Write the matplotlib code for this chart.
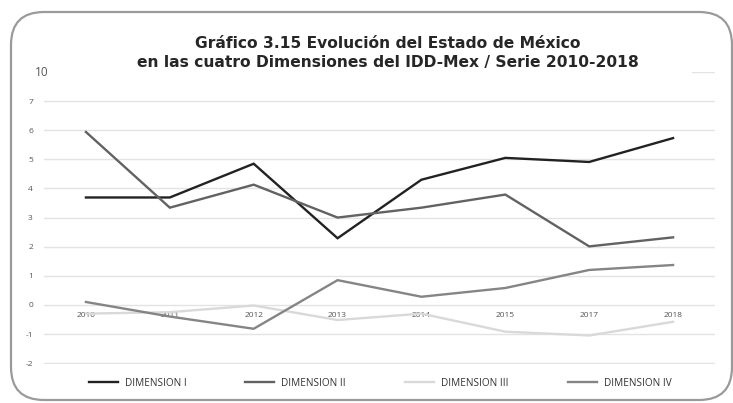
import matplotlib
matplotlib.use("Agg")
import matplotlib.pyplot as plt
from matplotlib.patches import FancyBboxPatch

# Datos
anios = ["2010", "2011", "2012", "2013", "2014", "2015", "2017", "2018"]
dim_1 = [3.69, 3.69, 4.85, 2.29, 4.30, 5.05, 4.91, 5.73]
dim_2 = [5.94, 3.34, 4.13, 3.00, 3.34, 3.79, 2.01, 2.32]
dim_3 = [-0.30, -0.25, -0.02, -0.52, -0.30, -0.92, -1.05, -0.58]
dim_4 = [0.10, -0.40, -0.82, 0.85, 0.28, 0.58, 1.20, 1.37]
nombres = ["DIMENSION I", "DIMENSION II", "DIMENSION III", "DIMENSION IV"]
yticks = [-2, -1, 0, 1, 2, 3, 4, 5, 6, 7]

colores = ["#222222", "#626262", "#d9d9d9", "#858585"]

fig = plt.figure(figsize=(7.33, 4.03), dpi=100)
ax = fig.add_axes([44 / 733, 1 - 364 / 403, 671 / 733, 292 / 403])

x = list(range(len(anios)))
for serie, nombre, c in zip([dim_1, dim_2, dim_3, dim_4], nombres, colores):
    ax.plot(x, serie, color=c, lw=1.7, label=nombre, solid_joinstyle="miter")

ax.set_xlim(-0.5, len(anios) - 0.5)
ax.set_ylim(-2.03, 8)
ax.set_yticks(yticks)
ax.set_yticklabels([str(v) for v in yticks], fontsize=6, color="#555555",
                   family="Open Sans")
ax.grid(axis="y", color="#e3e3e3", lw=1)
ax.axhline(8, xmin=0.965, xmax=1.0, color="#e3e3e3", lw=1)
ax.set_axisbelow(True)
for s in ["left", "right", "top"]:
    ax.spines[s].set_visible(False)
ax.spines["bottom"].set_position(("data", 0))
ax.spines["bottom"].set_color("none")
ax.set_xticks(x)
ax.set_xticklabels(anios, fontsize=6, color="#555555", family="Open Sans")
ax.tick_params(length=0, pad=5)
ax.tick_params(axis="y", pad=8)

fig.text(35 / 733, 1 - 72 / 403, "10", fontsize=8.5, color="#555555",
         family="Open Sans", ha="left", va="center")

fig.text(388 / 733, 1 - 53 / 403,
         "Gráfico 3.15 Evolución del Estado de México\n"
         "en las cuatro Dimensiones del IDD-Mex / Serie 2010-2018",
         fontsize=11.2, fontweight="bold", color="#262626", ha="center", va="center",
         linespacing=1.25)

fig.legend(loc="center", bbox_to_anchor=(380 / 733, 1 - 383 / 403), ncol=4,
           frameon=False, handlelength=2.9, columnspacing=5.9, handletextpad=0.7,
           prop={"family": "Open Sans", "size": 7.2}, labelcolor="#333333")

borde = FancyBboxPatch((11 / 733, 3 / 403), 721 / 733, 388 / 403,
                       boxstyle="round,pad=0,rounding_size=0.045",
                       transform=fig.transFigure, fill=False,
                       edgecolor="#9a9a9a", lw=1.6, mutation_aspect=733 / 403)
fig.patches.append(borde)

fig.savefig("out.png", dpi=100)
